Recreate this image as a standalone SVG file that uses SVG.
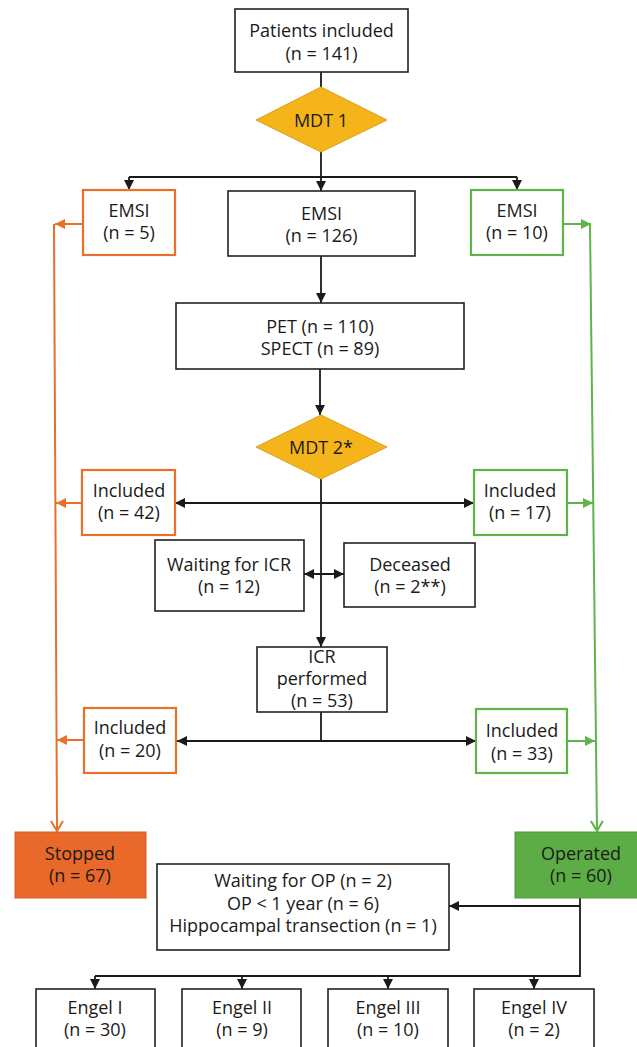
<svg xmlns="http://www.w3.org/2000/svg" width="637" height="1047" viewBox="0 0 637 1047">
<defs>
<style>
text{font-family:"Open Sans","Noto Sans","DejaVu Sans",sans-serif;font-size:18px;fill:#1a1a1a;text-anchor:middle}
.box{fill:#fff;stroke:#222;stroke-width:1.6}
.ob{fill:#fff;stroke:#E8702A;stroke-width:2.2}
.gb{fill:#fff;stroke:#5DB448;stroke-width:2.2}
.dia{fill:#F4B41A;stroke:#D9A01C;stroke-width:1}
.ln{fill:none;stroke:#1a1a1a;stroke-width:1.8}
.ol{fill:none;stroke:#E8702A;stroke-width:2}
.gl{fill:none;stroke:#5DB448;stroke-width:2}
</style>
<marker id="ab" viewBox="0 0 10 10" refX="10" refY="5" markerWidth="10" markerHeight="10" markerUnits="userSpaceOnUse" orient="auto-start-reverse"><path d="M0,0 L10,5 L0,10 z" fill="#1a1a1a"/></marker>
<marker id="ao" viewBox="0 0 10 10" refX="10" refY="5" markerWidth="10" markerHeight="10" markerUnits="userSpaceOnUse" orient="auto"><path d="M0,0 L10,5 L0,10 z" fill="#E8702A"/></marker>
<marker id="ag" viewBox="0 0 10 10" refX="10" refY="5" markerWidth="10" markerHeight="10" markerUnits="userSpaceOnUse" orient="auto"><path d="M0,0 L10,5 L0,10 z" fill="#5DB448"/></marker>
<marker id="vo" viewBox="0 0 12 14" refX="11" refY="7" markerWidth="12" markerHeight="14" markerUnits="userSpaceOnUse" orient="auto"><path d="M1,1 L11,7 L1,13" fill="none" stroke="#E8702A" stroke-width="2"/></marker>
<marker id="vg" viewBox="0 0 12 14" refX="11" refY="7" markerWidth="12" markerHeight="14" markerUnits="userSpaceOnUse" orient="auto"><path d="M1,1 L11,7 L1,13" fill="none" stroke="#5DB448" stroke-width="2"/></marker>
</defs>
<rect width="637" height="1047" fill="#fff"/>

<g id="connectors">
<path class="ln" d="M321,72 V87"/>
<path class="ln" d="M321,152 V177 M129,177 H517"/>
<path class="ln" d="M129,177 V190" marker-end="url(#ab)"/>
<path class="ln" d="M321,177 V191" marker-end="url(#ab)"/>
<path class="ln" d="M517,177 V190" marker-end="url(#ab)"/>
<path class="ln" d="M321,256 V303" marker-end="url(#ab)"/>
<path class="ln" d="M320,369 V415" marker-end="url(#ab)"/>
<path class="ln" d="M321,479 V647" marker-end="url(#ab)"/>
<path class="ln" d="M175,503 H474" marker-start="url(#ab)" marker-end="url(#ab)"/>
<path class="ln" d="M304,574 H344" marker-start="url(#ab)" marker-end="url(#ab)"/>
<path class="ln" d="M321,712 V741"/>
<path class="ln" d="M177,741 H476" marker-start="url(#ab)" marker-end="url(#ab)"/>
<path class="ol" d="M83,224 H55" marker-end="url(#ao)"/>
<path class="ol" d="M82,503 H56" marker-end="url(#ao)"/>
<path class="ol" d="M84,740 H57" marker-end="url(#ao)"/>
<path class="gl" d="M563,224 H591" marker-end="url(#ag)"/>
<path class="gl" d="M567,503 H593" marker-end="url(#ag)"/>
<path class="gl" d="M567,741 H595" marker-end="url(#ag)"/>
<path class="ol" d="M54,224 L57,831" marker-end="url(#vo)"/>
<path class="gl" d="M590,224 L597,831" marker-end="url(#vg)"/>
<path class="ln" d="M580,898 V976 H95"/>
<path class="ln" d="M580,906 H449" marker-end="url(#ab)"/>
<path class="ln" d="M95,976 V989" marker-end="url(#ab)"/>
<path class="ln" d="M242,976 V989" marker-end="url(#ab)"/>
<path class="ln" d="M388,976 V989" marker-end="url(#ab)"/>
<path class="ln" d="M534,976 V989" marker-end="url(#ab)"/>
</g>

<g id="patients"><rect class="box" x="235" y="9" width="173" height="63"/><text x="321.5" y="37">Patients included</text><text x="321.5" y="60">(n = 141)</text></g>
<g id="mdt1"><polygon class="dia" points="256,120 321,87 387,120 321,152"/><text x="321" y="127">MDT 1</text></g>
<g id="emsi-left"><rect class="ob" x="83" y="190" width="92" height="65"/><text x="129" y="217">EMSI</text><text x="129" y="239">(n = 5)</text></g>
<g id="emsi-center"><rect class="box" x="228" y="191" width="187" height="65"/><text x="321.5" y="220">EMSI</text><text x="321.5" y="242">(n = 126)</text></g>
<g id="emsi-right"><rect class="gb" x="471" y="190" width="92" height="65"/><text x="517" y="217">EMSI</text><text x="517" y="239">(n = 10)</text></g>
<g id="pet"><rect class="box" x="176" y="303" width="288" height="66"/><text x="320" y="333">PET (n = 110)</text><text x="320" y="355">SPECT (n = 89)</text></g>
<g id="mdt2"><polygon class="dia" points="256,447 321,415 387,447 321,479"/><text x="321" y="454">MDT 2*</text></g>
<g id="included-42"><rect class="ob" x="82" y="470" width="93" height="65"/><text x="129" y="497">Included</text><text x="129" y="519">(n = 42)</text></g>
<g id="included-17"><rect class="gb" x="474" y="470" width="93" height="65"/><text x="520" y="497">Included</text><text x="520" y="519">(n = 17)</text></g>
<g id="waiting-icr"><rect class="box" x="155" y="540" width="149" height="71"/><text x="229" y="571">Waiting for ICR</text><text x="229" y="593">(n = 12)</text></g>
<g id="deceased"><rect class="box" x="344" y="543" width="131" height="64"/><text x="410" y="571">Deceased</text><text x="410" y="593">(n = 2**)</text></g>
<g id="icr"><rect class="box" x="257" y="647" width="130" height="65"/><text x="322" y="663">ICR</text><text x="322" y="685">performed</text><text x="322" y="707">(n = 53)</text></g>
<g id="included-20"><rect class="ob" x="84" y="708" width="92" height="65"/><text x="130" y="734">Included</text><text x="130" y="757">(n = 20)</text></g>
<g id="included-33"><rect class="gb" x="476" y="709" width="91" height="64"/><text x="522" y="737">Included</text><text x="522" y="760">(n = 33)</text></g>
<g id="stopped"><rect x="15" y="832" width="131" height="66" fill="#E8692A" stroke="#D55F22" stroke-width="1"/><text x="80" y="860">Stopped</text><text x="80" y="882">(n = 67)</text></g>
<g id="operated"><rect x="515" y="832" width="125" height="66" fill="#5CAD45" stroke="#4E9A3A" stroke-width="1"/><text x="581" y="860">Operated</text><text x="581" y="882">(n = 60)</text></g>
<g id="waiting-op"><rect class="box" x="157" y="864" width="292" height="86"/><text x="303" y="887">Waiting for OP (n = 2)</text><text x="303" y="910">OP &lt; 1 year (n = 6)</text><text x="303" y="932">Hippocampal transection (n = 1)</text></g>
<g id="engel1"><rect class="box" x="36" y="989" width="119" height="70"/><text x="95" y="1014">Engel I</text><text x="95" y="1036">(n = 30)</text></g>
<g id="engel2"><rect class="box" x="182" y="989" width="119" height="70"/><text x="242" y="1014">Engel II</text><text x="242" y="1036">(n = 9)</text></g>
<g id="engel3"><rect class="box" x="328" y="989" width="120" height="70"/><text x="388" y="1014">Engel III</text><text x="388" y="1036">(n = 10)</text></g>
<g id="engel4"><rect class="box" x="474" y="989" width="120" height="70"/><text x="534" y="1014">Engel IV</text><text x="534" y="1036">(n = 2)</text></g>
</svg>
